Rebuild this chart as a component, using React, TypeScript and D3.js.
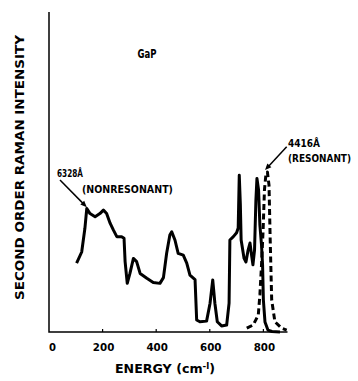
import * as d3 from 'd3';

// solid curve, 6328 A (nonresonant): energy (cm-1) / intensity (arb.)
const SOLID_ENERGY = [103, 122, 134, 141, 153, 172, 190, 203, 215, 228, 240, 253, 271, 280, 284, 292, 302, 315, 327, 340, 365, 389, 414, 427, 439, 451, 458, 470, 482, 501, 514, 526, 545, 551, 563, 588, 601, 611, 619, 628, 644, 663, 672, 675, 688, 700, 706, 710, 714, 717, 728, 735, 743, 750, 756, 761, 767, 772, 776, 782, 787, 793, 797, 800, 806, 817, 832, 862];
const SOLID_INTENSITY = [21.5, 25, 32.4, 38.6, 37, 36, 37, 38.1, 37, 34, 31.9, 29.8, 29.8, 29.3, 22, 15.2, 18.3, 23, 22, 18.3, 16.8, 15.5, 15.2, 17, 24.6, 30.3, 31.3, 28.75, 24.6, 24, 21.5, 17.8, 16.4, 3.75, 3.2, 3.4, 9, 16.25, 9, 3.2, 1.9, 2.2, 9, 28.75, 29.8, 31, 32.5, 49, 40, 28.75, 23, 21.9, 25.6, 27.8, 24, 21, 25.6, 41, 48, 44.4, 33.4, 27.2, 21, 10, 3.1, 0.6, 0.15, 0];

// dashed curve, 4416 A (resonant)
const DASHED_ENERGY = [738, 762, 781, 787, 793, 799, 804, 810, 815, 821, 825, 828, 831, 843, 868, 887];
const DASHED_INTENSITY = [1.2, 2.2, 5.3, 11.6, 20.9, 31.9, 44.4, 49.7, 50, 45.9, 30.3, 20, 10, 3.2, 1.2, 0.6];

const ENERGY_TICKS = [0, 200, 400, 600, 800];

const W = 358;
const H = 381;
const FONT = '"DejaVu Sans", "Liberation Sans", Arial, sans-serif';

export default function App() {
  const x = d3.scaleLinear().domain([0, 890]).range([49, 287.5]);
  const y = d3.scaleLinear().domain([0, 100]).range([332, 12]);

  const line = d3
    .line<[number, number]>()
    .x((d) => x(d[0]))
    .y((d) => y(d[1]));

  const solid = SOLID_ENERGY.map((e, i) => [e, SOLID_INTENSITY[i]] as [number, number]);
  const dashed = DASHED_ENERGY.map((e, i) => [e, DASHED_INTENSITY[i]] as [number, number]);

  const arrow = (from: [number, number], to: [number, number]) => {
    const x1 = x(from[0]);
    const y1 = y(from[1]);
    const x2 = x(to[0]);
    const y2 = y(to[1]);
    const a = Math.atan2(y2 - y1, x2 - x1);
    const len = 7;
    const wing = 0.4;
    const p1 = [x2 - len * Math.cos(a - wing), y2 - len * Math.sin(a - wing)];
    const p2 = [x2 - len * Math.cos(a + wing), y2 - len * Math.sin(a + wing)];
    return (
      <g>
        <line x1={x1} y1={y1} x2={x2 - 4 * Math.cos(a)} y2={y2 - 4 * Math.sin(a)} stroke="#000" strokeWidth={1.5} />
        <path d={`M${x2},${y2}L${p1[0]},${p1[1]}L${p2[0]},${p2[1]}Z`} fill="#000" />
      </g>
    );
  };

  return (
    <svg
      width={W}
      height={H}
      style={{ position: 'absolute', left: 0, top: 0, background: '#fff' }}
      fontFamily={FONT}
      fontWeight="bold"
    >
      {/* axes */}
      <path d={`M${x(0)},${y(100)}V${y(0)}H${x(890)}`} fill="none" stroke="#000" strokeWidth={1.5} />
      {ENERGY_TICKS.map((t) => (
        <g key={t}>
          {t > 0 && <line x1={x(t)} x2={x(t)} y1={y(0)} y2={y(0) - 3} stroke="#000" strokeWidth={1.2} />}
          <text
            x={x(t) + (t === 0 ? 3.5 : 1)}
            y={351}
            textAnchor="middle"
            fontSize={10.5}
            textLength={t === 0 ? 7 : 21.5}
            lengthAdjust="spacingAndGlyphs"
          >
            {t}
          </text>
        </g>
      ))}

      <text x={115} y={373} fontSize={11.5} textLength={100} lengthAdjust="spacingAndGlyphs">
        ENERGY (cm
        <tspan dy={-4} fontSize={8}>-l</tspan>
        <tspan dy={4}>)</tspan>
      </text>

      <text
        transform={`translate(24,${(35 + 300) / 2}) rotate(-90)`}
        textAnchor="middle"
        fontSize={11.5}
        textLength={265}
        lengthAdjust="spacingAndGlyphs"
      >
        SECOND ORDER RAMAN INTENSITY
      </text>

      <text x={x(330)} y={y(85.6)} fontSize={13} textLength={19} lengthAdjust="spacingAndGlyphs">
        GaP
      </text>

      {/* spectra */}
      <path d={line(solid) ?? ''} fill="none" stroke="#000" strokeWidth={3} strokeLinejoin="round" />
      <path
        d={line(dashed) ?? ''}
        fill="none"
        stroke="#000"
        strokeWidth={3}
        strokeDasharray="6,3.5"
        strokeLinejoin="round"
      />

      {/* annotations */}
      <text x={x(30)} y={y(48.4)} fontSize={10} textLength={26} lengthAdjust="spacingAndGlyphs">
        6328Å
      </text>
      <text x={x(123)} y={y(43.4)} fontSize={10} textLength={91} lengthAdjust="spacingAndGlyphs">
        (NONRESONANT)
      </text>
      {arrow([41, 47.5], [141, 39])}

      <text x={x(892)} y={y(57.8)} fontSize={10} textLength={32} lengthAdjust="spacingAndGlyphs">
        4416Å
      </text>
      <text x={x(892)} y={y(53.1)} fontSize={10} textLength={63} lengthAdjust="spacingAndGlyphs">
        (RESONANT)
      </text>
      {arrow([887, 57.9], [806, 50.6])}
    </svg>
  );
}
